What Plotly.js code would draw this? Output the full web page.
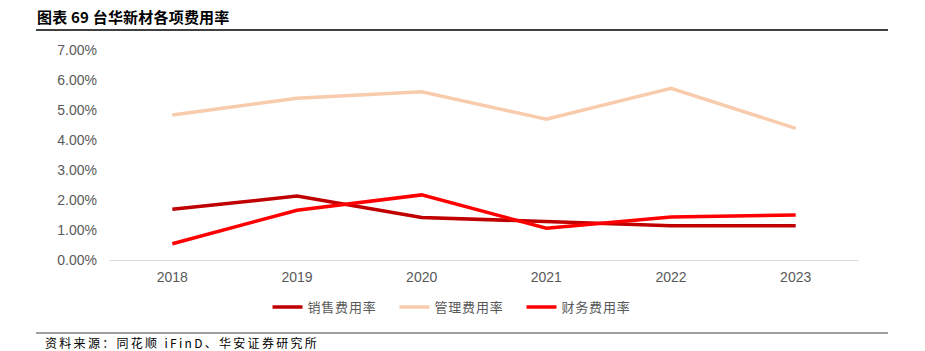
<!DOCTYPE html>
<html><head><meta charset="utf-8">
<script src="https://cdn.plot.ly/plotly-3.0.1.min.js"></script>
<style>body{margin:0;background:#fff}#c{width:925px;height:351px}
.legendtext{letter-spacing:0.8px}
</style>
</head><body><div id="c"></div>
<script>
const years = ['2018','2019','2020','2021','2022','2023'];
const salesRate = [1.69, 2.13, 1.42, 1.28, 1.14, 1.14];
const adminRate = [4.83, 5.39, 5.61, 4.69, 5.72, 4.39];
const finRate = [0.54, 1.66, 2.17, 1.06, 1.43, 1.50];
const seriesNames = ['销售费用率','管理费用率','财务费用率'];
const yTicks = [0,1,2,3,4,5,6,7];
const yTickText = yTicks.map(v => v.toFixed(2) + '%');

const cjk = '"Noto Sans CJK SC", "Noto Sans", sans-serif';
const latin = '"Liberation Sans", Arial, sans-serif';
const mk = (y, name, color) => ({x: years, y: y, name: name, type: 'scatter', mode: 'lines',
  line: {color: color, width: 3.5}});
const data = [
  mk(salesRate, seriesNames[0], '#C00000'),
  mk(adminRate, seriesNames[1], '#F8CBAD'),
  mk(finRate, seriesNames[2], '#FF0000')
];
const L = 110, R = 858, T = 50, B = 260;
const px = x => (x - L) / (R - L);
const py = y => (B - y) / (B - T);
const layout = {
  width: 925, height: 351,
  margin: {l: L, r: 925 - R, t: T, b: 351 - B},
  paper_bgcolor: '#fff', plot_bgcolor: '#fff',
  showlegend: true,
  legend: {orientation: 'h', x: px(458), xanchor: 'center', y: py(307), yanchor: 'middle',
    entrywidth: 82, entrywidthmode: 'pixels',
    font: {family: cjk, size: 13, color: '#595959'}, itemwidth: 30},
  xaxis: {type: 'category', range: [-0.5, 5.5], showgrid: false, zeroline: false,
    showline: true, linecolor: '#D9D9D9', linewidth: 1, ticks: '', ticklabelstandoff: 4,
    tickfont: {family: latin, size: 14, color: '#595959'}},
  yaxis: {range: [0, 7], tickvals: yTicks, ticktext: yTickText, showgrid: false,
    zeroline: false, showline: false, ticks: '', ticklen: 0, ticklabelstandoff: 12,
    tickfont: {family: latin, size: 14, color: '#595959'}},
  shapes: [
    {type: 'line', xref: 'paper', yref: 'paper', x0: px(36), x1: px(888), y0: py(30), y1: py(30),
      line: {color: '#000', width: 1.5}},
    {type: 'line', xref: 'paper', yref: 'paper', x0: px(36), x1: px(888), y0: py(333), y1: py(333),
      line: {color: '#7F7F7F', width: 1.5}}
  ],
  annotations: [
    {text: '<b>图表 69 台华新材各项费用率</b>', xref: 'paper', yref: 'paper', x: px(35), y: py(17),
      xanchor: 'left', yanchor: 'middle', showarrow: false, width: 230, align: 'left',
      font: {family: cjk, size: 15, color: '#000'}},
    {text: '资料来源：同花顺 iFinD、华安证券研究所', xref: 'paper', yref: 'paper', x: px(44), y: py(342.5),
      xanchor: 'left', yanchor: 'middle', showarrow: false, width: 300, align: 'left', borderpad: 0,
      font: {family: cjk, size: 12, color: '#000'}}
  ]
};
Plotly.newPlot('c', data, layout, {displayModeBar: false, staticPlot: true}).then(gd => {
  const t = gd.querySelectorAll('.annotation-text');
  if (t[0]) t[0].style.letterSpacing = '0.2px';
  if (t[1]) t[1].style.letterSpacing = '2.3px';
});
</script></body></html>
